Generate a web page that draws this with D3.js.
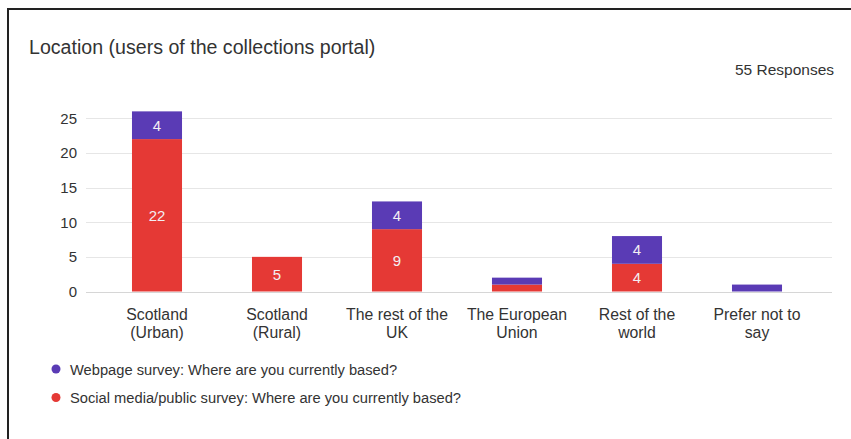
<!DOCTYPE html>
<html>
<head>
<meta charset="utf-8">
<script src="https://cdn.jsdelivr.net/npm/d3@7"></script>
<style>
  html, body { margin: 0; padding: 0; background: #fff; }
  svg { display: block; font-family: "Liberation Sans", Arial, sans-serif; }
</style>
</head>
<body>
<svg id="chart" width="851" height="439"></svg>
<script>
// Survey responses by location
const categories = [
  ["Scotland", "(Urban)"],
  ["Scotland", "(Rural)"],
  ["The rest of the", "UK"],
  ["The European", "Union"],
  ["Rest of the", "world"],
  ["Prefer not to", "say"]
];
const socialValues  = [22, 5, 9, 1, 4, 0];
const webpageValues = [4, 0, 4, 1, 4, 1];
const yTicks = [0, 5, 10, 15, 20, 25];
const seriesNames = [
  "Webpage survey: Where are you currently based?",
  "Social media/public survey: Where are you currently based?"
];
const colors = { webpage: "#5a3bb5", social: "#e53935" };

const svg = d3.select("#chart");

// Card border (top and left edges visible)
svg.append("path")
  .attr("d", "M8,447 V9 H860")
  .attr("fill", "none")
  .attr("stroke", "#222")
  .attr("stroke-width", 2);

svg.append("text")
  .attr("x", 29).attr("y", 54)
  .attr("font-size", 19.6).attr("fill", "#333")
  .text("Location (users of the collections portal)");

svg.append("text")
  .attr("x", 834).attr("y", 75)
  .attr("text-anchor", "end")
  .attr("font-size", 15.5).attr("fill", "#333")
  .text("55 Responses");

const x = d3.scaleBand()
  .domain(d3.range(categories.length))
  .range([97, 817])
  .paddingInner(0.583)
  .paddingOuter(0.2915);

const y = d3.scaleLinear().domain([0, 25]).range([291.5, 118.3]);

// Grid lines
svg.append("g").selectAll("line")
  .data(yTicks)
  .join("line")
  .attr("x1", 86).attr("x2", 832)
  .attr("y1", d => Math.round(y(d)) + 0.5)
  .attr("y2", d => Math.round(y(d)) + 0.5)
  .attr("stroke", d => d === 0 ? "#d6d6d6" : "#e6e6e6");

// Y axis labels
const yAxis = d3.axisLeft(y).tickValues(yTicks).tickSize(0).tickPadding(0);
svg.append("g")
  .attr("transform", "translate(77,0)")
  .call(yAxis)
  .call(g => g.select(".domain").remove())
  .call(g => g.selectAll("text")
    .attr("font-family", "'Liberation Sans', Arial, sans-serif")
    .attr("font-size", 15).attr("fill", "#333"));

// Stacked bars
const rows = categories.map((c, i) => ({ i, social: socialValues[i], webpage: webpageValues[i] }));
const stack = d3.stack().keys(["social", "webpage"])(rows);

const layer = svg.append("g").selectAll("g")
  .data(stack)
  .join("g")
  .attr("fill", d => colors[d.key]);

layer.selectAll("rect")
  .data(d => d)
  .join("rect")
  .attr("x", d => x(d.data.i))
  .attr("width", x.bandwidth())
  .attr("y", d => y(d[1]))
  .attr("height", d => y(d[0]) - y(d[1]));

// Value labels inside segments tall enough to hold them
layer.selectAll("text")
  .data(d => d.filter(s => s[1] - s[0] >= 3).map(s => ({ s, key: d.key })))
  .join("text")
  .attr("x", d => x(d.s.data.i) + x.bandwidth() / 2)
  .attr("y", d => (y(d.s[0]) + y(d.s[1])) / 2 + 5.5)
  .attr("text-anchor", "middle")
  .attr("font-size", 15)
  .attr("fill", "#f3eef3")
  .text(d => d.s[1] - d.s[0]);

// Category labels
const xl = svg.append("g").selectAll("text")
  .data(categories)
  .join("text")
  .attr("text-anchor", "middle")
  .attr("font-size", 15.8)
  .attr("fill", "#333");
xl.append("tspan").attr("y", 320).attr("x", (d, i) => x(i) + x.bandwidth() / 2).text(d => d[0]);
xl.append("tspan").attr("y", 337.5).attr("x", (d, i) => x(i) + x.bandwidth() / 2).text(d => d[1]);

// Legend
const legend = svg.append("g").selectAll("g")
  .data(seriesNames)
  .join("g")
  .attr("transform", (d, i) => `translate(56,${369 + i * 28.5})`);
legend.append("circle")
  .attr("r", 4.5)
  .attr("fill", (d, i) => i === 0 ? colors.webpage : colors.social);
legend.append("text")
  .attr("x", 14).attr("y", 5.5)
  .attr("font-size", 14.7).attr("fill", "#333")
  .text(d => d);
</script>
</body>
</html>
